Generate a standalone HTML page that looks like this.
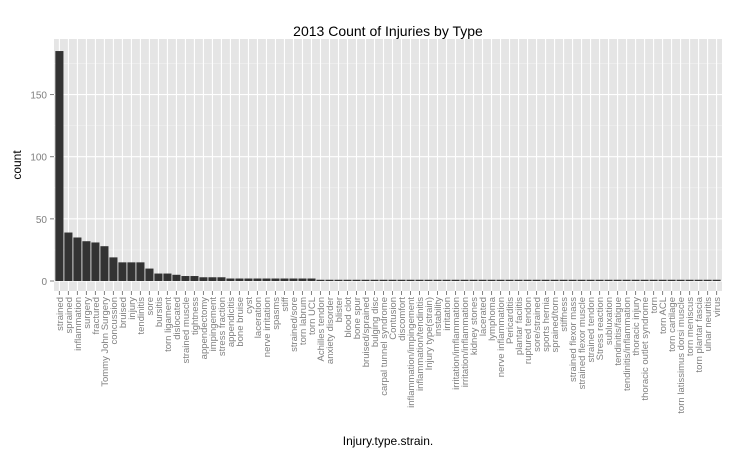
<!DOCTYPE html>
<html><head><meta charset="utf-8"><style>
body{margin:0;background:#fff;}
svg text{font-family:"Liberation Sans",Arial,sans-serif;}
</style></head><body>
<svg id="chart" width="742" height="458">
<text x="388" y="36" text-anchor="middle" font-size="14" fill="#000">2013 Count of Injuries by Type</text>
<text transform="translate(21,165) rotate(-90)" text-anchor="middle" font-size="12" fill="#000">count</text>
<text x="388" y="445" text-anchor="middle" font-size="12" fill="#000">Injury.type.strain.</text>
<g id="plot"></g>
</svg>
<script>
const categories=["strained","sprained","inflammation","surgery","fractured","Tommy John Surgery","concussion","bruised","injury","tendinitis","sore","bursitis","torn ligament","dislocated","strained muscle","tightness","appendectomy","impingement","stress fraction","appendicitis","bone bruise","cyst","laceration","nerve irritation","spasms","stiff","strained/sore","torn labrum","torn UCL","Achilles tendon","anxiety disorder","blister","blood clot","bone spur","bruised/sprained","bulging disc","carpal tunnel syndrome","Contusion","discomfort","inflammation/impingement","inflammation/tendinitis","Injury type(strain)","instability","irritation","irritation/imflammation","irritation/inflammation","kidney stones","lacerated","lymphoma","nerve inflammation","Pericarditis","plantar faciitis","ruptured tendon","sore/strained","sports hernia","sprained/torn","stiffness","strained flexor mass","strained flexor muscle","strained tendon","Stress reaction","subluxation","tendinitis/fatigue","tendinitis/inflammation","thoracic injury","thoracic outlet syndrome","torn","torn ACL","torn cartilage","torn latissimus dorsi muscle","torn meniscus","torn plantar fascia","ulnar neuritis","virus"];
const counts=[185,39,35,32,31,28,19,15,15,15,10,6,6,5,4,4,3,3,3,2,2,2,2,2,2,2,2,2,2,1,1,1,1,1,1,1,1,1,1,1,1,1,1,1,1,1,1,1,1,1,1,1,1,1,1,1,1,1,1,1,1,1,1,1,1,1,1,1,1,1,1,1,1,1];
const yTicks=[0,50,100,150];
const yMinor=[25,75,125,175];
const NS="http://www.w3.org/2000/svg";
const L=54,R=722,T=39,B=291;
const y0=281,pxPer=1.243;
function yScale(v){return y0-v*pxPer;}
const n=categories.length,step=(R-L)/(n-1+1.2);
function xScale(i){return L+(0.6+i)*step;}
const g=document.getElementById('plot');
function mk(tag,attrs){const e=document.createElementNS(NS,tag);for(const k in attrs)e.setAttribute(k,attrs[k]);g.appendChild(e);return e;}
const bg=mk('rect',{x:L,y:T,width:R-L,height:B-T,fill:'#E5E5E5'});


yMinor.forEach(v=>{const l=mk('line',{x1:L,x2:R,y1:yScale(v),y2:yScale(v),stroke:'#F2F2F2','stroke-width':0.6});

});
yTicks.forEach(v=>{const l=mk('line',{x1:L,x2:R,y1:yScale(v),y2:yScale(v),stroke:'#fff','stroke-width':1.1});


const tk=mk('line',{x1:L-4,x2:L,y1:yScale(v),y2:yScale(v),stroke:'#7f7f7f','stroke-width':1});


const t=mk('text',{x:L-7,y:yScale(v)+4,'text-anchor':'end','font-size':10,fill:'#7f7f7f'});t.textContent=v;

});
categories.forEach((c,i)=>{const x=xScale(i);
const l=mk('line',{x1:x,x2:x,y1:T,y2:B,stroke:'#fff','stroke-width':1.1});

});
categories.forEach((c,i)=>{const x=xScale(i),w=step*0.9;
const b=mk('rect',{x:x-w/2,y:yScale(counts[i]),width:w,height:yScale(0)-yScale(counts[i]),fill:'#333333'});


const tk=mk('line',{x1:x,x2:x,y1:B,y2:B+4,stroke:'#7f7f7f','stroke-width':1});


const t=mk('text',{transform:`translate(${x+3.5},${B+6}) rotate(-90)`,'text-anchor':'end','font-size':9.5,fill:'#7f7f7f'});t.textContent=c;

});
</script>
</body></html>
